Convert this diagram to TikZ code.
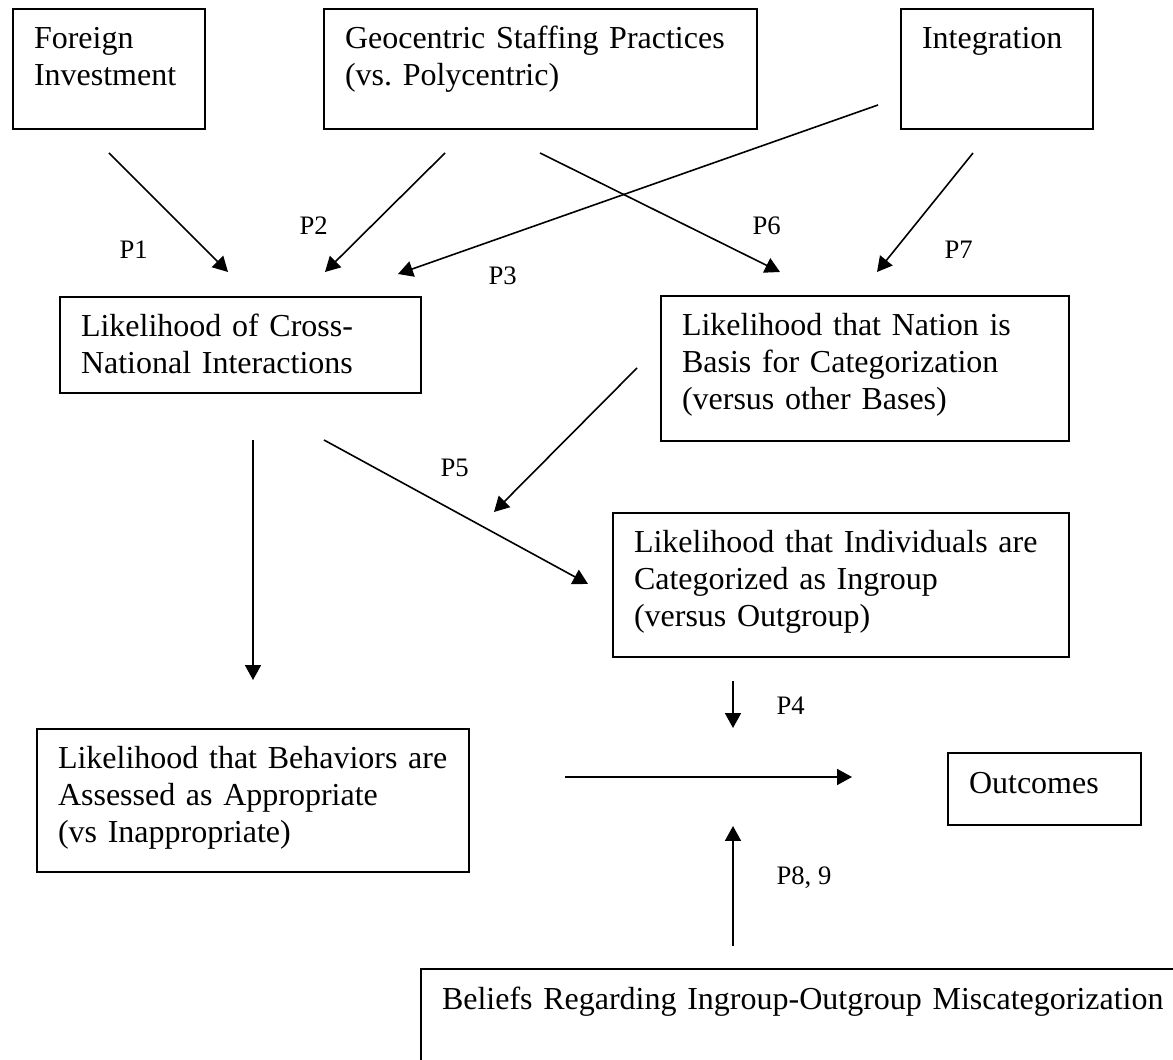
\documentclass[tikz,border=0pt]{standalone}
\usepackage{fontspec}
\setmainfont{Liberation Serif}
\usetikzlibrary{arrows.meta}

\begin{document}
\begin{tikzpicture}[
  x=0.375pt, y=-0.375pt,
  box/.style={
    draw, line width=1pt,
    anchor=north west, outer sep=0pt,
    inner xsep=7.875pt, % left padding before the text
    inner ysep=0pt,
    text height=15pt,   % first baseline below the top edge
    align=left,
    font=\fontsize{12}{13.8}\selectfont
  },
  plabel/.style={anchor=base west, inner sep=0pt, font=\fontsize{10}{12}\selectfont},
  link/.style={line width=0.6pt, -{Triangle[length=5.6pt, width=6pt]}}
]
\clip (0,0) rectangle (1173,1060);

% --- Antecedents ---
\node[box, text width=56.25pt, text depth=30pt] (fdi) at (13,9) {Foreign\\Investment};
\node[box, text width=146.6pt, text depth=30pt] (geo) at (324,9) {Geocentric Staffing Practices\\(vs.\ Polycentric)};
\node[box, text width=56.25pt, text depth=30pt] (integ) at (901,9) {Integration};

% --- Mediators ---
\node[box, text width=119.6pt, text depth=21pt] (cross) at (60,297) {Likelihood of Cross-\\National Interactions};
\node[box, text width=137.25pt, text depth=39.4pt] (nation) at (661,296) {Likelihood that Nation is\\Basis for Categorization\\(versus other Bases)};
\node[box, text width=155.25pt, text depth=39pt] (indiv) at (613,513) {Likelihood that Individuals are\\Categorized as Ingroup\\(versus Outgroup)};
\node[box, text width=146.25pt, text depth=38.6pt] (behav) at (37,729) {Likelihood that Behaviors are\\Assessed as Appropriate\\(vs Inappropriate)};

% --- Outcomes and moderator ---
\node[box, text width=56.6pt, text depth=12pt] (outc) at (948,753) {Outcomes};
\node[box, text width=300pt, text depth=60pt] (belief) at (421,969) {Beliefs Regarding Ingroup-Outgroup Miscategorization};

% --- Arrow ends ---
\coordinate (p1s) at (109,153);  \coordinate (p1e) at (228,272);
\coordinate (p2s) at (445,153);  \coordinate (p2e) at (325,272);
\coordinate (p3s) at (878,105);  \coordinate (p3e) at (398,274);
\coordinate (p6s) at (540,153);  \coordinate (p6e) at (780,272);
\coordinate (p7s) at (973,153);  \coordinate (p7e) at (877,272);
\coordinate (cbs) at (253,440);  \coordinate (cbe) at (253,680);
\coordinate (cis) at (324,440);  \coordinate (cie) at (588,584);
\coordinate (p5s) at (637,368);  \coordinate (p5e) at (494,512);
\coordinate (p4s) at (733,681);  \coordinate (p4e) at (733,728);
\coordinate (ms) at (565,777);   \coordinate (me) at (852,777);
\coordinate (p8s) at (733,946);  \coordinate (p8e) at (733,826);

\draw[link] (p1s) -- (p1e);
\draw[link] (p2s) -- (p2e);
\draw[link] (p3s) -- (p3e);
\draw[link] (p6s) -- (p6e);
\draw[link] (p7s) -- (p7e);
\draw[link] (cbs) -- (cbe);
\draw[link] (cis) -- (cie);
\draw[link] (p5s) -- (p5e);
\draw[link] (p4s) -- (p4e);
\draw[link] (ms) -- (me);
\draw[link] (p8s) -- (p8e);

% --- Proposition labels ---
\node[plabel] (l1) at (119,259) {P1};
\node[plabel] (l2) at (299,235) {P2};
\node[plabel] (l3) at (488,285) {P3};
\node[plabel] (l6) at (752,235) {P6};
\node[plabel] (l7) at (944,259) {P7};
\node[plabel] (l5) at (440,477) {P5};
\node[plabel] (l4) at (776,715) {P4};
\node[plabel] (l89) at (776,884) {P8, 9};

\end{tikzpicture}
\end{document}
